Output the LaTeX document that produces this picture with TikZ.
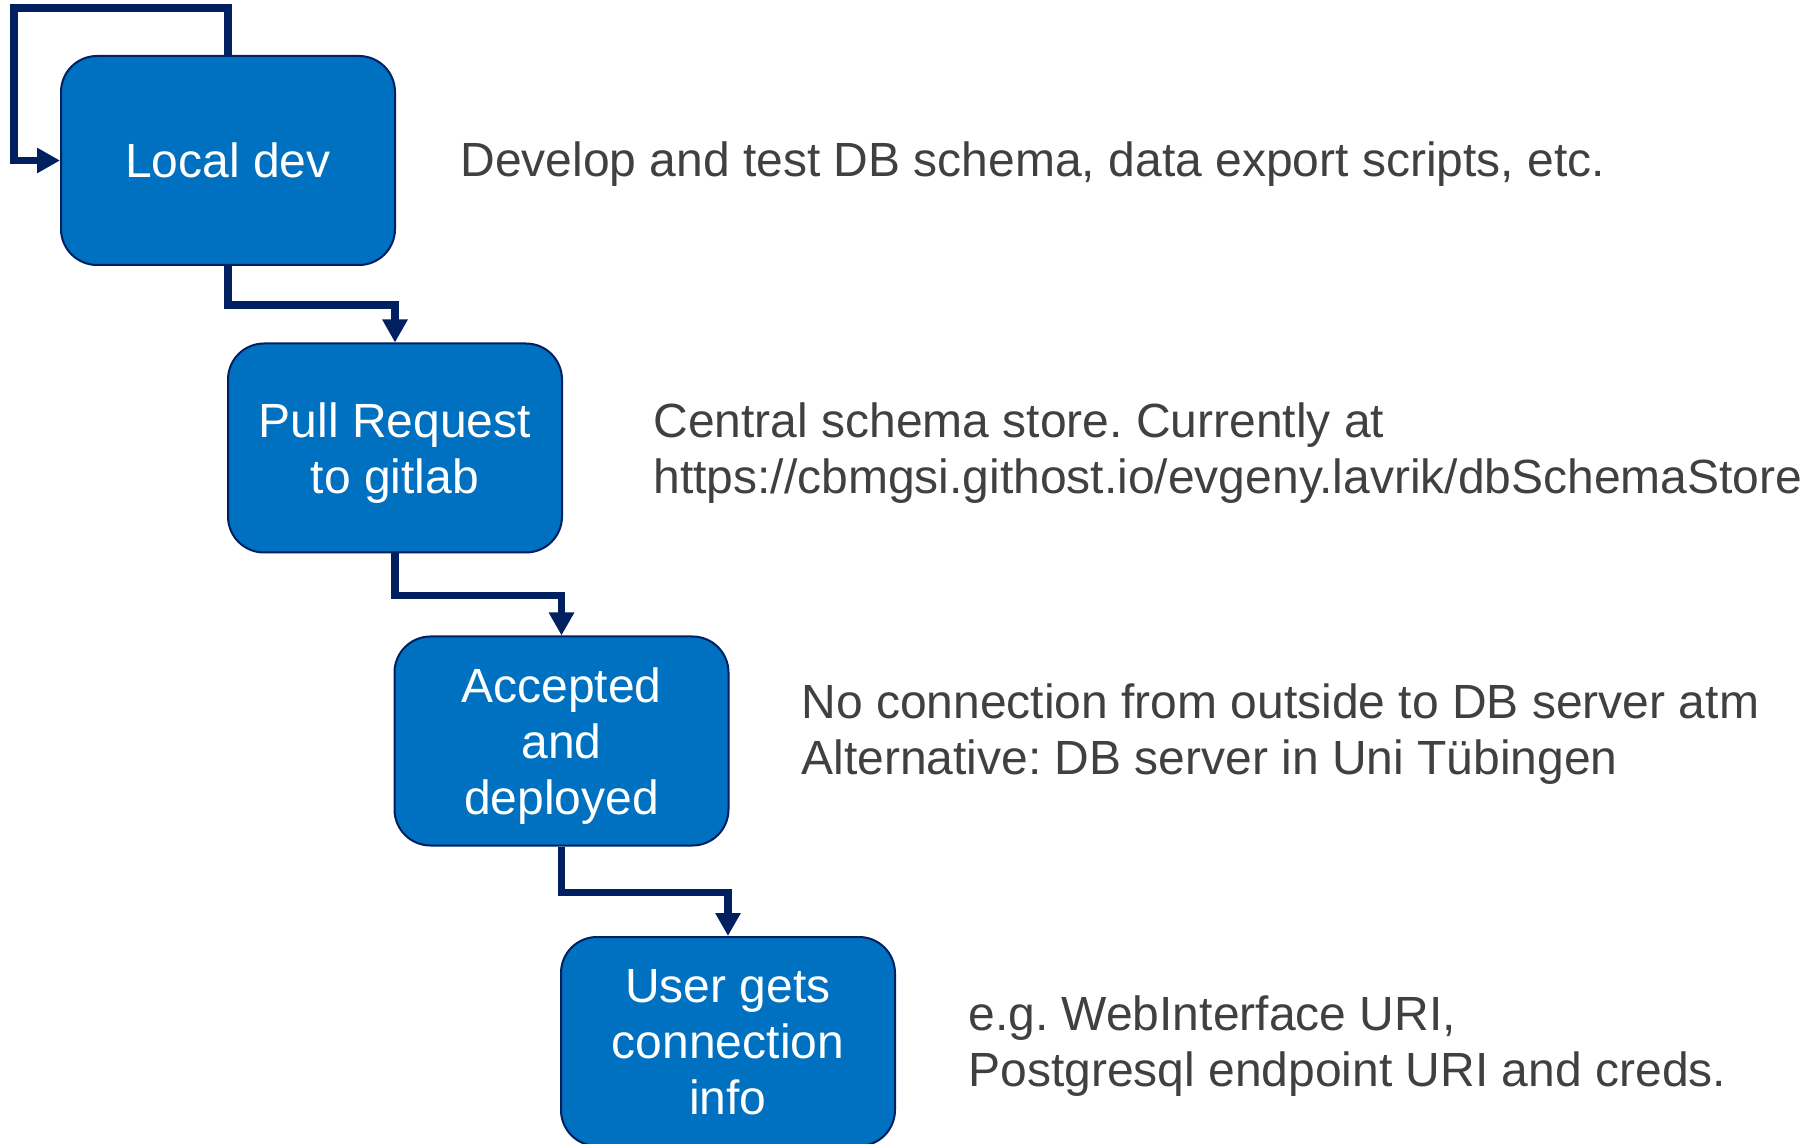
\documentclass[tikz,border=0pt]{standalone}
\usepackage{fontspec}
\setmainfont{Liberation Sans}
\usetikzlibrary{arrows.meta}
\frenchspacing

\definecolor{boxblue}{RGB}{0,112,192}
\definecolor{navy}{RGB}{0,32,96}
\definecolor{notegray}{RGB}{64,64,64}

\begin{document}
\begin{tikzpicture}[x=0.5pt, y=-0.5pt,
    stage/.style={draw=navy, line width=1pt, fill=boxblue, text=white,
        rounded corners=18pt, minimum width=167pt, minimum height=104.5pt,
        align=center, text depth=0pt, font=\fontsize{24}{28}\selectfont},
    note/.style={anchor=west, inner sep=0pt, align=left, text=notegray,
        font=\fontsize{24}{28}\selectfont},
    flow/.style={draw=navy, line width=3.75pt,
        -{Triangle[length=11.5pt, width=12pt]}}]
    \useasboundingbox (0,0) rectangle (1812,1144);

    % Stages
    \node[stage] (local) at (228,160.5) {Local dev};
    \node[stage] (pull)  at (395,448)   {Pull Request\\to gitlab};
    \node[stage] (acc)   at (561.5,741) {Accepted\\and\\deployed};
    \node[stage] (user)  at (728,1041.5) {User gets\\connection\\info};

    % Notes
    \node[note] (n1) at (460,164) {Develop and test DB schema, data export scripts, etc.};
    \node[note] (n2) at (653,453) {Central schema store. Currently at\\https://cbmgsi.githost.io/evgeny.lavrik/dbSchemaStore};
    \node[note] (n3) at (801,734) {No connection from outside to DB server atm\\Alternative: DB server in Uni Tübingen};
    \node[note] (n4) at (968,1046) {e.g. WebInterface URI,\\Postgresql endpoint URI and creds.};

    % Flow
    \coordinate (loop) at (14,8);
    \draw[flow] (local.north) |- (loop) |- (local.west);
    \draw[flow] (local.south) -- ++(0,39) -| (pull.north);
    \draw[flow] (pull.south) -- ++(0,42) -| (acc.north);
    \draw[flow] (acc.south) -- ++(0,46) -| (user.north);
\end{tikzpicture}
\end{document}
